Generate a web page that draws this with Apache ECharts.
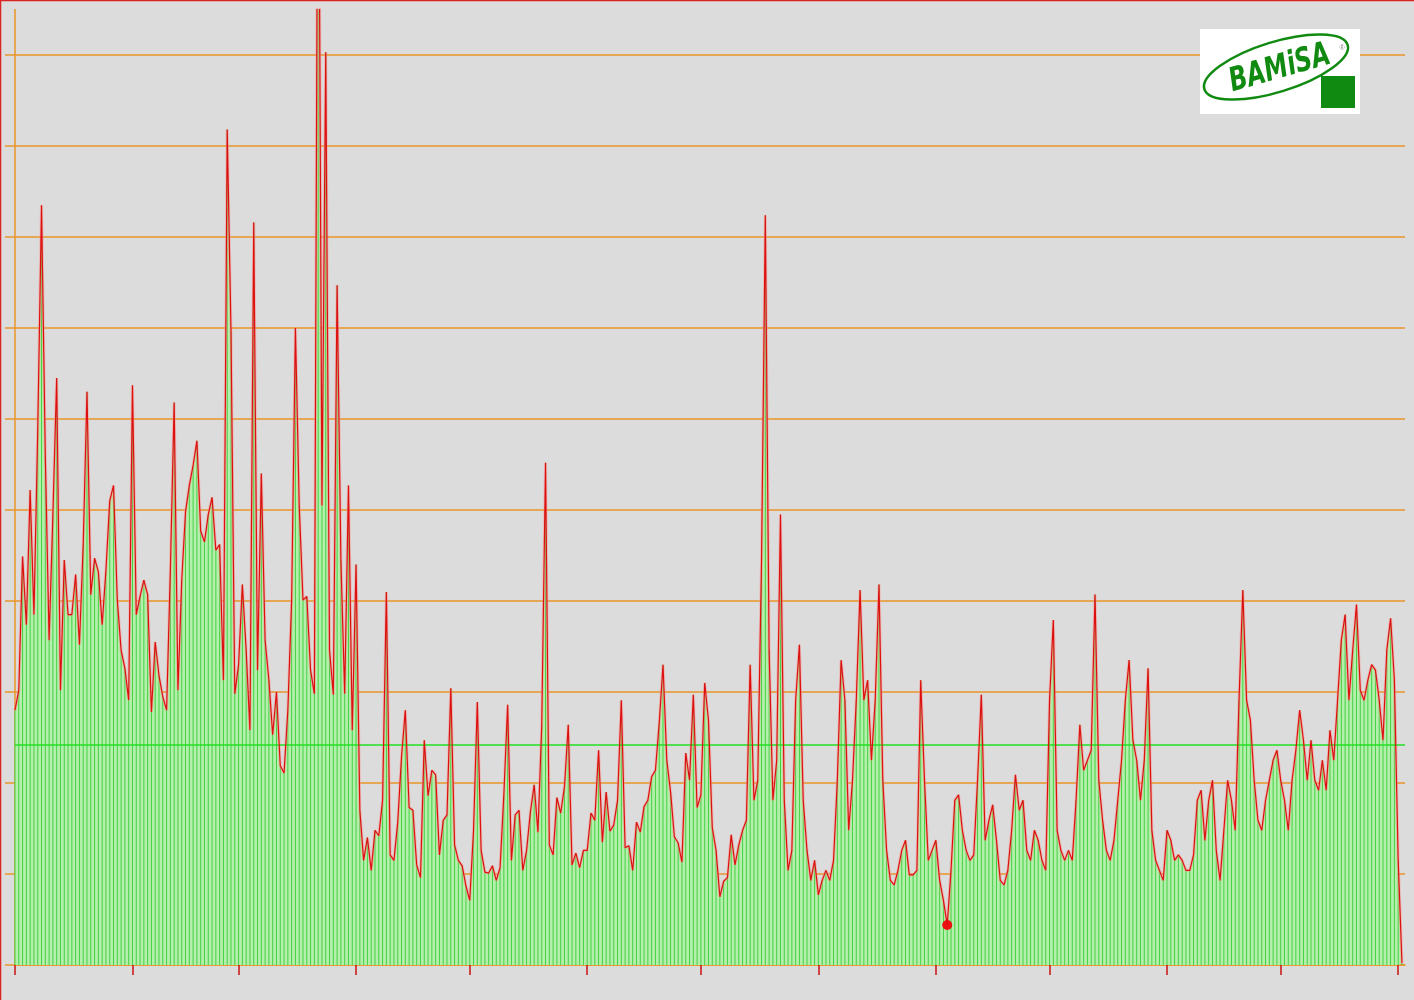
<!DOCTYPE html>
<html><head><meta charset="utf-8">
<script src="https://cdn.jsdelivr.net/npm/echarts@6/dist/echarts.min.js"></script>
<style>html,body{margin:0;padding:0;background:#dcdcdc}#c{width:1414px;height:1000px}</style>
</head><body><div id="c"></div>
<script>
// Daily readings, one per day (index = day of year), in grid units
const dailyValues = [
 2.80, 3.02, 4.49, 3.74, 5.22, 3.85, 5.88, 8.35, 5.60, 3.57,
 4.95, 6.45, 3.02, 4.45, 3.85, 3.85, 4.29, 3.52, 4.62, 6.30,
 4.07, 4.47, 4.32, 3.74, 4.34, 5.10, 5.27, 4.01, 3.46, 3.26,
 2.91, 6.37, 3.85, 4.05, 4.23, 4.07, 2.78, 3.55, 3.18, 2.95,
 2.80, 4.34, 6.18, 3.02, 4.23, 4.98, 5.27, 5.49, 5.76, 4.77,
 4.65, 4.95, 5.14, 4.56, 4.62, 3.13, 9.18, 6.96, 2.98, 3.30,
 4.18, 3.46, 2.58, 8.16, 3.24, 5.40, 3.57, 3.13, 2.53, 3.00,
 2.19, 2.11, 2.80, 4.01, 7.00, 5.05, 4.01, 4.05, 3.24, 2.98,
 13.9, 5.05, 10.03, 3.46, 2.97, 7.47, 4.45, 2.98, 5.27, 2.58,
 4.40, 1.70, 1.15, 1.40, 1.04, 1.48, 1.42, 1.81, 4.10, 1.21,
 1.15, 1.57, 2.29, 2.80, 1.73, 1.70, 1.10, 0.96, 2.47, 1.86,
 2.14, 2.09, 1.21, 1.59, 1.65, 3.04, 1.32, 1.15, 1.09, 0.87,
 0.71, 1.48, 2.89, 1.26, 1.02, 1.01, 1.09, 0.93, 1.07, 1.87,
 2.86, 1.15, 1.65, 1.70, 1.04, 1.26, 1.68, 1.98, 1.46, 2.64,
 5.52, 1.32, 1.21, 1.84, 1.67, 1.96, 2.64, 1.10, 1.23, 1.07,
 1.26, 1.26, 1.67, 1.59, 2.36, 1.35, 1.90, 1.47, 1.54, 1.81,
 2.91, 1.29, 1.31, 1.04, 1.57, 1.46, 1.74, 1.81, 2.07, 2.14,
 2.66, 3.30, 2.25, 1.90, 1.41, 1.34, 1.13, 2.33, 2.03, 2.97,
 1.73, 1.87, 3.10, 2.69, 1.51, 1.26, 0.75, 0.92, 0.96, 1.43,
 1.10, 1.32, 1.48, 1.59, 3.30, 1.81, 2.03, 4.45, 8.24, 3.46,
 1.81, 2.25, 4.95, 1.81, 1.04, 1.26, 2.91, 3.52, 1.81, 1.26,
 0.93, 1.15, 0.77, 0.93, 1.04, 0.93, 1.15, 2.03, 3.35, 2.91,
 1.48, 2.03, 2.91, 4.12, 2.91, 3.13, 2.25, 2.91, 4.18, 2.03,
 1.26, 0.93, 0.88, 1.04, 1.26, 1.37, 0.99, 0.99, 1.04, 3.13,
 2.03, 1.15, 1.26, 1.37, 0.93, 0.71, 0.44, 1.04, 1.81, 1.87,
 1.48, 1.26, 1.15, 1.21, 2.03, 2.97, 1.37, 1.59, 1.76, 1.37,
 0.93, 0.88, 1.04, 1.48, 2.09, 1.70, 1.81, 1.26, 1.15, 1.48,
 1.37, 1.15, 1.04, 2.91, 3.79, 1.48, 1.26, 1.15, 1.26, 1.15,
 1.81, 2.64, 2.14, 2.25, 2.36, 4.07, 2.03, 1.59, 1.26, 1.15,
 1.37, 1.81, 2.25, 2.91, 3.35, 2.47, 2.25, 1.81, 2.25, 3.26,
 1.48, 1.15, 1.04, 0.93, 1.48, 1.37, 1.15, 1.21, 1.15, 1.04,
 1.04, 1.21, 1.81, 1.92, 1.37, 1.81, 2.03, 1.26, 0.93, 1.48,
 2.03, 1.81, 1.48, 2.91, 4.12, 2.91, 2.69, 2.03, 1.59, 1.48,
 1.81, 2.03, 2.25, 2.36, 2.03, 1.81, 1.48, 2.03, 2.36, 2.80,
 2.47, 2.03, 2.47, 2.03, 1.92, 2.25, 1.92, 2.58, 2.25, 2.91,
 3.57, 3.85, 2.91, 3.46, 3.96, 3.02, 2.91, 3.13, 3.30, 3.24,
 2.91, 2.47, 3.46, 3.81, 3.13, 1.15, 0.02
];
const monthTickDays = [0, 31, 59, 90, 120, 151, 181, 212, 243, 273, 304, 334, 365];
const yTickValues = [0, 1, 2, 3, 4, 5, 6, 7, 8, 9, 10];
const meanLevel = 2.42;
const minimumDay = 246;
const minimumValue = 0.44;

const points = dailyValues.map((v, i) => [i, v]);

const chart = echarts.init(document.getElementById('c'), null, {renderer: 'canvas'});
chart.setOption({
  animation: false,
  backgroundColor: '#dcdcdc',
  grid: {left: 15, right: 9, top: 9.5, bottom: 35},
  xAxis: {
    type: 'value', min: 0, max: 366.8,
    axisLine: {show: true, lineStyle: {color: '#e8962a', width: 1.5}},
    axisTick: {show: true, customValues: monthTickDays, length: 10, lineStyle: {color: '#cc1111', width: 1.5}},
    axisLabel: {show: false},
    splitLine: {show: false}
  },
  yAxis: {
    type: 'value', min: 0, max: 10.5, interval: 1,
    axisLine: {show: true, lineStyle: {color: '#e8962a', width: 1.5}},
    axisTick: {show: true, customValues: yTickValues, length: 10, lineStyle: {color: '#e8962a', width: 1.5}},
    axisLabel: {show: false},
    splitLine: {show: true, lineStyle: {color: '#e8962a', width: 1.5}}
  },
  series: [
    {
      type: 'line', data: points, showSymbol: false, silent: true, z: 1,
      lineStyle: {width: 0, opacity: 0},
      areaStyle: {color: '#b4f0ac', opacity: 1}
    },
    {
      type: 'bar', data: points, barWidth: 1, silent: true, z: 2,
      itemStyle: {color: '#44d044'}
    },
    {
      type: 'line', data: points, showSymbol: false, silent: true, z: 4,
      lineStyle: {color: 'rgba(255,140,140,0.45)', width: 3}
    },
    {
      type: 'line', data: points, showSymbol: false, silent: true, z: 5,
      lineStyle: {color: '#dd1010', width: 1.2},
      markLine: {
        silent: true, symbol: 'none', label: {show: false},
        lineStyle: {color: '#22e022', type: 'solid', width: 1.5},
        data: [{yAxis: meanLevel}]
      },
      markPoint: {
        silent: true, symbol: 'circle', symbolSize: 10,
        itemStyle: {color: '#ee1111'}, label: {show: false},
        data: [{coord: [minimumDay, minimumValue]}]
      }
    }
  ],
  graphic: [
    {type: 'line', silent: true, z: 100, shape: {x1: 0, y1: 0.5, x2: 1414, y2: 0.5},
     style: {stroke: '#dd2222', lineWidth: 1.5}},
    {type: 'line', silent: true, z: 100, shape: {x1: 0.5, y1: 0, x2: 0.5, y2: 1000},
     style: {stroke: '#dd2222', lineWidth: 1.5}},
    {type: 'rect', silent: true, z: 100, shape: {x: 1200, y: 29, width: 160, height: 85}, style: {fill: '#ffffff'}},
    {type: 'ellipse', silent: true, z: 101, x: 1276, y: 67, rotation: 0.3,
     shape: {cx: 0, cy: 0, rx: 75, ry: 25}, style: {fill: null, stroke: '#118a11', lineWidth: 2.5}},
    {type: 'text', silent: true, z: 102, x: 1280, y: 69, rotation: 0.28, scaleX: 0.8,
     style: {text: 'BAMiSA', fill: '#118a11', fontSize: 33, fontWeight: 'bold', fontStyle: 'italic',
       fontFamily: '"DejaVu Sans Condensed", "DejaVu Sans", sans-serif',
       textAlign: 'center', textVerticalAlign: 'middle'}},
    {type: 'rect', silent: true, z: 102, shape: {x: 1321, y: 76, width: 34, height: 32}, style: {fill: '#118a11'}},
    {type: 'text', silent: true, z: 102, x: 1342, y: 48,
     style: {text: '®', fill: '#888888', fontSize: 7, textAlign: 'center', textVerticalAlign: 'middle'}}
  ]
});
</script></body></html>
